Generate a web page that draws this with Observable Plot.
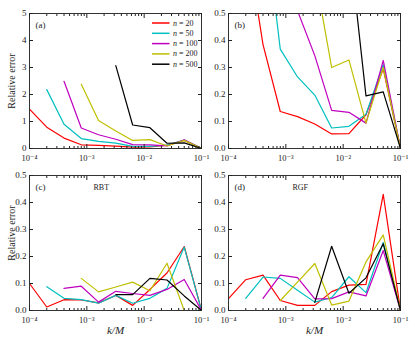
<!DOCTYPE html>
<html><head><meta charset="utf-8">
<script src="https://cdn.jsdelivr.net/npm/d3@7"></script>
<script src="https://cdn.jsdelivr.net/npm/@observablehq/plot@0.6"></script>
<style>
html,body{margin:0;padding:0;background:#fff;}
#wrap{position:relative;width:415px;height:338px;font-family:"Liberation Serif","DejaVu Serif",serif;}
.panel{position:absolute;}
.panel svg{overflow:visible;display:block;}
g[aria-label="x-axis label"] text{font-style:italic;font-size:11px;}
</style></head><body><div id="wrap"></div>
<script>
// k/M sample grid (shared by all panels)
const kM = [1e-4, 2e-4, 4e-4, 8e-4, 1.6e-3, 3.2e-3, 6.3e-3, 1.26e-2, 2.5e-2, 5e-2, 1e-1];
const nValues = [20, 50, 100, 200, 500];
const seriesColors = ["#ff0000", "#00bfbf", "#bf00bf", "#bfbf00", "#000000"];
const firstIndex = [0, 1, 2, 3, 5];   // first k/M sample of each n series

// panels (a)/(b): same data, (b) is a zoom
const errAB_n20  = [1.46, 0.79, 0.385, 0.137, 0.118, 0.091, 0.054, 0.055, 0.125, 0.295, 0];
const errAB_n50  = [2.18, 0.9, 0.368, 0.265, 0.198, 0.076, 0.082, 0.127, 0.31, 0];
const errAB_n100 = [2.49, 0.76, 0.51, 0.344, 0.141, 0.134, 0.094, 0.326, 0];
const errAB_n200 = [2.38, 1.04, 0.65, 0.30, 0.328, 0.094, 0.30, 0];
const errAB_n500 = [3.07, 0.87, 0.77, 0.195, 0.21, 0];

// panel (c) RBT
const errC_n20  = [0.10, 0.013, 0.04, 0.039, 0.028, 0.056, 0.019, 0.078, 0.139, 0.237, 0];
const errC_n50  = [0.088, 0.045, 0.04, 0.027, 0.056, 0.027, 0.045, 0.082, 0.235, 0];
const errC_n100 = [0.082, 0.09, 0.031, 0.071, 0.063, 0.056, 0.078, 0.115, 0];
const errC_n200 = [0.119, 0.069, 0.087, 0.105, 0.073, 0.175, 0, 0];
const errC_n500 = [0.059, 0.059, 0.119, 0.113, 0.054, 0];

// panel (d) RGF
const errD_n20  = [0.044, 0.114, 0.131, 0.037, 0.019, 0.019, 0.07, 0.094, 0.097, 0.43, 0];
const errD_n50  = [0.045, 0.124, 0.119, 0.075, 0.031, 0.048, 0.125, 0.066, 0.252, 0];
const errD_n100 = [0.045, 0.131, 0.122, 0.043, 0.044, 0.069, 0.054, 0.222, 0];
const errD_n200 = [0.037, 0.105, 0.174, 0.02, 0.035, 0.18, 0.28, 0];
const errD_n500 = [0.03, 0.238, 0.064, 0.121, 0.247, 0];

const xMajorTicks = [1e-4, 1e-3, 1e-2, 1e-1];
const xTickLabels = ["10\u207B\u2074", "10\u207B\u00B3", "10\u207B\u00B2", "10\u207B\u00B9"];
const xMinorTicks = xMajorTicks.slice(0, 3).flatMap(d => d3.range(2, 10).map(m => d * m));
const yTicksBig = [0, 1, 2, 3, 4, 5];
const yTickLabelsBig = ["0", "1", "2", "3", "4", "5"];
const yTicksSmall = [0, 0.1, 0.2, 0.3, 0.4, 0.5];
const yTickLabelsSmall = ["0.0", "0.1", "0.2", "0.3", "0.4", "0.5"];
const legendLabels = ["20", "50", "100", "200", "500"];

function rowsOf(series) {
  const rows = [];
  series.forEach((vals, s) => vals.forEach((v, j) => rows.push({k: kM[firstIndex[s] + j], err: v, n: nValues[s]})));
  return rows;
}
const dataAB = rowsOf([errAB_n20, errAB_n50, errAB_n100, errAB_n200, errAB_n500]);
const dataC = rowsOf([errC_n20, errC_n50, errC_n100, errC_n200, errC_n500]);
const dataD = rowsOf([errD_n20, errD_n50, errD_n100, errD_n200, errD_n500]);

const wrap = document.getElementById("wrap");

function panel(cfg) {
  const yT = cfg.yTicks, yL = cfg.yLabels;
  const fy = d => yL[yT.indexOf(d)];
  const fx = d => xTickLabels[xMajorTicks.indexOf(d)];
  const marks = [
    Plot.line(cfg.data, {x: "k", y: "err", z: "n", stroke: "n", strokeWidth: 1.2, clip: true}),
    Plot.frame({stroke: "#333", strokeWidth: 1}),
    Plot.axisX(xMajorTicks, {anchor: "bottom", tickSize: -4, fill: "none", label: null}),
    Plot.axisX(xMajorTicks, {anchor: "top", tickSize: -4, fill: "none", label: null}),
    Plot.axisX(xMinorTicks, {anchor: "bottom", tickSize: -2, fill: "none", label: null}),
    Plot.axisX(xMinorTicks, {anchor: "top", tickSize: -2, fill: "none", label: null}),
    Plot.axisX(xMajorTicks, {anchor: "bottom", tickSize: 0, tickPadding: 6, tickFormat: fx, fontSize: 8.5,
      label: cfg.xLabel, labelAnchor: "center", labelArrow: "none", labelOffset: 23}),
    Plot.axisY(yT, {anchor: "left", tickSize: -4, fill: "none", label: null}),
    Plot.axisY(yT, {anchor: "right", tickSize: -4, fill: "none", label: null}),
    Plot.axisY(yT, {anchor: "left", tickSize: 0, tickPadding: 3, tickFormat: fy, label: null}),
    Plot.text([cfg.tag], {frameAnchor: "top-left", dx: 6, dy: 12, textAnchor: "start", lineAnchor: "middle", fontSize: 9})
  ];
  if (cfg.yLabel) marks.push(Plot.text([cfg.yLabel], {frameAnchor: "left", rotate: -90, dx: -18, dy: cfg.yLabelDy,
    textAnchor: "middle", lineAnchor: "middle", fontSize: 10}));
  if (cfg.method) marks.push(Plot.text([cfg.method], {frameAnchor: "top-left", dx: 64, dy: 12, textAnchor: "start", lineAnchor: "middle", fontSize: 8}));
  const svg = Plot.plot({
    width: cfg.width, height: cfg.height,
    marginLeft: cfg.ml, marginRight: cfg.mr, marginTop: cfg.mt, marginBottom: cfg.mb,
    style: {fontFamily: "Liberation Serif, DejaVu Serif, serif", fontSize: "9px", color: "#222", background: "transparent", overflow: "visible"},
    x: {type: "log", domain: [1e-4, 1e-1]},
    y: {domain: cfg.yDomain},
    color: {type: "ordinal", domain: nValues, range: seriesColors},
    marks
  });
  const div = document.createElement("div");
  div.className = "panel";
  div.style.left = cfg.left + "px";
  div.style.top = cfg.top + "px";
  div.appendChild(svg);
  wrap.appendChild(div);
}

panel({data: dataAB, left: 0, top: 0, width: 207, height: 165, ml: 29, mr: 6, mt: 13, mb: 17,
  yDomain: [0, 5], yTicks: yTicksBig, yLabels: yTickLabelsBig, yLabel: "Relative error", yLabelDy: 0, xLabel: null, tag: "(a)"});
panel({data: dataAB, left: 207, top: 0, width: 208, height: 165, ml: 21, mr: 15, mt: 13, mb: 17,
  yDomain: [0, 0.5], yTicks: yTicksSmall, yLabels: yTickLabelsSmall, yLabel: null, xLabel: null, tag: "(b)"});
panel({data: dataC, left: 0, top: 162, width: 207, height: 176, ml: 29, mr: 6, mt: 13, mb: 28,
  yDomain: [0, 0.5], yTicks: yTicksSmall, yLabels: yTickLabelsSmall, yLabel: "Relative error", yLabelDy: -10, xLabel: "k/M", tag: "(c)", method: "RBT"});
panel({data: dataD, left: 207, top: 162, width: 208, height: 176, ml: 21, mr: 15, mt: 13, mb: 28,
  yDomain: [0, 0.5], yTicks: yTicksSmall, yLabels: yTickLabelsSmall, yLabel: null, xLabel: "k/M", tag: "(d)", method: "RGF"});

// legend in panel (a)
const leg = d3.select(wrap).append("svg")
  .attr("width", 60).attr("height", 60)
  .style("position", "absolute").style("left", "148px").style("top", "16px").style("overflow", "visible");
legendLabels.forEach((lab, i) => {
  const y = 7 + i * 10.3;
  leg.append("line").attr("x1", 4).attr("x2", 21.5).attr("y1", y).attr("y2", y)
    .attr("stroke", seriesColors[i]).attr("stroke-width", 1.5);
  const t = leg.append("text").attr("x", 25).attr("y", y).attr("dy", "0.32em")
    .style("font-family", "Liberation Serif, DejaVu Serif, serif").style("font-size", "8px").attr("fill", "#222");
  t.append("tspan").style("font-style", "italic").text("n");
  t.append("tspan").text(" = " + lab);
});
</script></body></html>
